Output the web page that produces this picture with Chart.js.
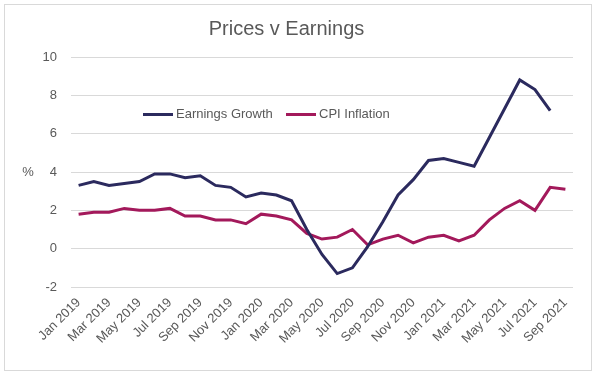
<!DOCTYPE html>
<html>
<head>
<meta charset="utf-8">
<script src="https://cdn.jsdelivr.net/npm/chart.js@4/dist/chart.umd.min.js"></script>
<style>
html,body{margin:0;padding:0;background:#fff;}
#wrap{position:relative;width:600px;height:378px;}
</style>
</head>
<body>
<div id="wrap"><canvas id="c" width="600" height="378"></canvas></div>
<script>
const months = ["Jan 2019","Feb 2019","Mar 2019","Apr 2019","May 2019","Jun 2019","Jul 2019","Aug 2019","Sep 2019","Oct 2019","Nov 2019","Dec 2019",
  "Jan 2020","Feb 2020","Mar 2020","Apr 2020","May 2020","Jun 2020","Jul 2020","Aug 2020","Sep 2020","Oct 2020","Nov 2020","Dec 2020",
  "Jan 2021","Feb 2021","Mar 2021","Apr 2021","May 2021","Jun 2021","Jul 2021","Aug 2021","Sep 2021"];
const earningsGrowth = [3.3,3.5,3.3,3.4,3.5,3.9,3.9,3.7,3.8,3.3,3.2,2.7,
  2.9,2.8,2.5,1.0,-0.3,-1.3,-1.0,0.1,1.4,2.8,3.6,4.6,
  4.7,4.5,4.3,5.8,7.3,8.8,8.3,7.2,null];
const cpiInflation = [1.8,1.9,1.9,2.1,2.0,2.0,2.1,1.7,1.7,1.5,1.5,1.3,
  1.8,1.7,1.5,0.8,0.5,0.6,1.0,0.2,0.5,0.7,0.3,0.6,
  0.7,0.4,0.7,1.5,2.1,2.5,2.0,3.2,3.1];
const yTicks = [-2,0,2,4,6,8,10];
const titleText = "Prices v Earnings";
const yUnit = "%";

const TXT = "#595959";
const FONT = "'Liberation Sans', Arial, sans-serif";

const framePlugin = {
  id: 'frame',
  beforeDraw(chart) {
    const ctx = chart.ctx;
    ctx.save();
    ctx.fillStyle = '#fff';
    ctx.fillRect(0,0,chart.width,chart.height);
    ctx.strokeStyle = '#d9d9d9';
    ctx.lineWidth = 1;
    ctx.strokeRect(4.5,4.5,587,366);
    ctx.restore();
  },
  afterDraw(chart) {
    const ctx = chart.ctx;
    const ca = chart.chartArea;
    const ys = chart.scales.y;
    ctx.save();
    ctx.fillStyle = TXT;
    ctx.font = "13px " + FONT;
    ctx.textAlign = 'center';
    ctx.textBaseline = 'middle';
    ctx.fillText(yUnit, 28, ys.getPixelForValue(4));
    const ly = ys.getPixelForValue(7.0);
    const starts = [ca.left + 72, ca.left + 215];
    chart.data.datasets.forEach((ds, i) => {
      const x0 = starts[i];
      ctx.strokeStyle = ds.borderColor;
      ctx.lineWidth = 3;
      ctx.beginPath();
      ctx.moveTo(x0, ly);
      ctx.lineTo(x0 + 30, ly);
      ctx.stroke();
      ctx.fillStyle = TXT;
      ctx.textAlign = 'left';
      ctx.fillText(ds.label, x0 + 33, ly);
    });
    ctx.restore();
  }
};

new Chart(document.getElementById('c'), {
  type: 'line',
  data: {
    labels: months,
    datasets: [
      {label: 'Earnings Growth', data: earningsGrowth, borderColor: '#2b2a5e', backgroundColor: '#2b2a5e',
       borderWidth: 3, pointRadius: 0, tension: 0, spanGaps: false},
      {label: 'CPI Inflation', data: cpiInflation, borderColor: '#a3195b', backgroundColor: '#a3195b',
       borderWidth: 3, pointRadius: 0, tension: 0}
    ]
  },
  options: {
    responsive: false,
    animation: false,
    devicePixelRatio: 1,
    layout: {padding: {left: 0, right: 27, top: 0, bottom: 0}},
    plugins: {
      legend: {display: false},
      tooltip: {enabled: false},
      title: {display: true, text: titleText, color: TXT,
        font: {family: FONT, size: 20, weight: 'normal'},
        padding: {top: 17, bottom: 16}}
    },
    scales: {
      x: {
        offset: true,
        grid: {display: false, drawTicks: false},
        border: {display: false},
        ticks: {
          autoSkip: false, maxRotation: 45, minRotation: 45, padding: 8,
          color: TXT, font: {family: FONT, size: 13},
          callback: function(v, i) { return i % 2 === 0 ? this.getLabelForValue(v) : ''; }
        },
        afterFit: (s) => { s.height = 91; }
      },
      y: {
        min: -2, max: 10,
        afterBuildTicks: (s) => { s.ticks = yTicks.map(v => ({value: v})); },
        grid: {color: '#d9d9d9', lineWidth: 1, drawTicks: false},
        border: {display: false},
        ticks: {padding: 14, color: TXT, font: {family: FONT, size: 13}},
        afterFit: (s) => { s.width = 71; }
      }
    }
  },
  plugins: [framePlugin]
});
</script>
</body>
</html>
